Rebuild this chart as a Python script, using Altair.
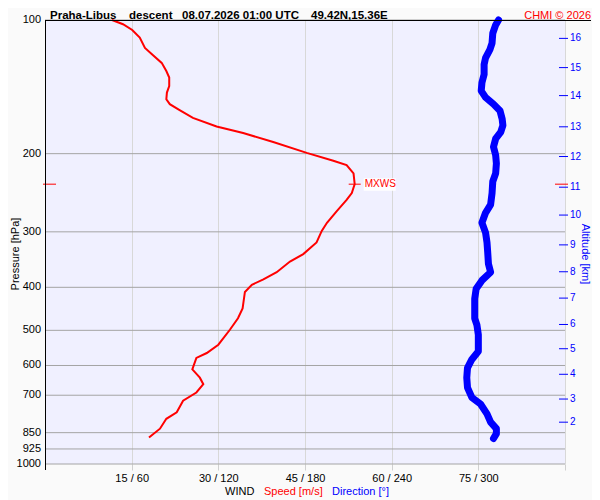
import altair as alt
import pandas as pd

# ---- data ----
speed_p = [100, 102.2, 105.3, 109.5, 115.6, 120.1, 124.9, 130.3, 134.8, 140.8,
           145.7, 150.8, 154.7, 159.5, 166.2, 173.7, 179.7, 188.3, 199.2, 207.5,
           212.3, 221.5, 234.3, 245.4, 254.3, 269.5, 286.2, 298.6, 317.0, 336.7,
           350.0, 369.8, 383.9, 394.7, 409.8, 446.3, 469.7, 498.5, 538.7, 562.4,
           576.8, 612.2, 639.1, 661.1, 690.2, 720.2, 764.6, 791.0, 832.6, 872.0]
speed_v = [11.6, 13.5, 15.1, 16.4, 17.3, 18.7, 20.2, 21.0, 21.5, 21.5,
           21.1, 21.0, 21.6, 23.3, 25.6, 29.7, 34.3, 39.5, 45.3, 49.9,
           52.2, 53.4, 53.6, 53.1, 52.2, 50.5, 48.8, 47.9, 47.0, 44.7,
           42.4, 40.1, 37.8, 35.8, 34.6, 34.2, 33.4, 32.0, 30.0, 28.0,
           26.2, 25.5, 26.8, 27.4, 26.2, 23.9, 22.8, 21.0, 19.9, 18.0]

dir_p = [100, 102.6, 107.1, 112.7, 116.6, 121.7, 126.0, 132.6, 138.4, 144.4,
         149.4, 154.7, 160.1, 167.1, 172.8, 178.8, 185.1, 193.1, 201.6, 210.4,
         221.5, 231.1, 245.4, 260.5, 271.8, 286.2, 301.2, 317.0, 333.8, 354.3,
         369.8, 385.9, 402.9, 424.2, 469.7, 486.0, 511.5, 557.5, 581.6, 607.2,
         639.1, 672.7, 708.1, 732.5, 770.9, 804.9, 832.6, 854.3, 876.5]
dir_v = [314, 312, 310, 309.5, 308, 305, 304, 304, 302.5, 302,
         305, 310.5, 315, 316.5, 317, 315.5, 312, 310.5, 312, 312.5,
         312, 310, 309.5, 308.5, 305, 302.5, 305, 306, 306.5, 307,
         308.5, 302.5, 298.5, 297.5, 297.5, 299, 300, 300, 295.5, 292.5,
         292, 292.5, 295.5, 301.5, 306, 308.5, 312.5, 312.5, 310.5]

alt_km = [2, 3, 4, 5, 6, 7, 8, 9, 10, 11, 12, 13, 14, 15, 16]
alt_p = [805, 714, 628, 550, 485, 423, 369, 321, 275, 238, 203, 174, 148, 128, 110]

p_ticks = [100, 200, 300, 400, 500, 600, 700, 850, 925, 1000]
x_ticks = [15, 30, 45, 60, 75, 90]

mxws_speed = [53.6]
mxws_p = [234.3]
mxws_label = ["MXWS"]

title_parts = ["Praha-Libus", "descent", "08.07.2026 01:00 UTC", "49.42N,15.36E"]
copyright_text = "CHMI \u00a9 2026"

# ---- layout ----
W, H = 520, 444
FONT = "Liberation Sans"
RED = "#ff0000"
BLUE = "#0000ff"

speed_df = pd.DataFrame({"i": range(len(speed_p)), "p": speed_p, "speed": speed_v})
dir_df = pd.DataFrame({"i": range(len(dir_p)), "p": dir_p, "dir": dir_v})
alt_df = pd.DataFrame({"km": [str(k) for k in alt_km], "p": alt_p})
mx_df = pd.DataFrame({"speed": mxws_speed, "p": mxws_p, "label": mxws_label})
grid_df = pd.DataFrame({"p": p_ticks, "lab": [str(v) for v in p_ticks]})
one = pd.DataFrame({"a": [0]})

yscale = alt.Scale(type="log", domain=[100, 1000], reverse=True, nice=False)
xscale = alt.Scale(domain=[0, 90], nice=False, zero=False)

xaxis = alt.Axis(values=x_ticks,
                 labelExpr="datum.value == 90 ? '' : datum.value + ' / ' + datum.value*4",
                 grid=True, gridColor="#d8d8d8", tickColor="#d0d0d0", tickSize=6,
                 domain=False, labelFontSize=11, labelColor="black", labelPadding=2,
                 title=None, labelFont=FONT, labelOverlap=False)


def Y():
    return alt.Y("p:Q", scale=yscale, axis=None)


# horizontal pressure grid and labels
grid_rules = alt.Chart(grid_df).mark_rule(color="#a4a4a4", strokeWidth=1).encode(
    x=alt.value(0), x2=alt.value(W), y=Y())
grid_labels = alt.Chart(grid_df).mark_text(
    align="right", baseline="middle", fontSize=11, color="black", font=FONT
).encode(x=alt.value(-4), y=Y(), text="lab:N")

speed_line = alt.Chart(speed_df).mark_line(color=RED, strokeWidth=2).encode(
    x=alt.X("speed:Q", scale=xscale, axis=xaxis),
    y=Y(),
    order="i:Q",
)

dir_line = alt.Chart(dir_df).mark_line(
    color=BLUE, strokeWidth=7, strokeCap="round", strokeJoin="round"
).encode(
    x=alt.X("dir:Q", scale=alt.Scale(domain=[0, 360], nice=False, zero=False), axis=None),
    y=Y(),
    order="i:Q",
)

mx_box = alt.Chart(mx_df).mark_point(
    shape="M0.9,-0.6L4.1,-0.6L4.1,0.65L0.9,0.65Z", size=400, filled=True,
    fill="white", strokeWidth=0, opacity=1
).encode(x=alt.X("speed:Q", scale=xscale, axis=None), y=Y())

mx_cross = alt.Chart(mx_df).mark_point(
    shape="M-0.6,0L0.6,0", size=400, filled=False, stroke=RED, strokeWidth=1, opacity=1
).encode(x=alt.X("speed:Q", scale=xscale, axis=None), y=Y())

mx_text = alt.Chart(mx_df).mark_text(
    align="left", baseline="middle", dx=10, fontSize=10, color=RED, font=FONT
).encode(x=alt.X("speed:Q", scale=xscale, axis=None), y=Y(), text="label:N")

mx_left = alt.Chart(mx_df).mark_rule(color=RED, strokeWidth=1).encode(
    x=alt.value(-2), x2=alt.value(11), y=Y())
mx_right = alt.Chart(mx_df).mark_rule(color=RED, strokeWidth=1).encode(
    x=alt.value(510), x2=alt.value(523), y=Y())

alt_ticks = alt.Chart(alt_df).mark_rule(color=BLUE, strokeWidth=1).encode(
    x=alt.value(514), x2=alt.value(523), y=Y())
alt_labels = alt.Chart(alt_df).mark_text(
    align="left", baseline="middle", fontSize=10, color=BLUE, font=FONT
).encode(x=alt.value(525), y=Y(), text="km:N")

top_line = alt.Chart(one).mark_rule(color="black", strokeWidth=1).encode(
    x=alt.value(0), x2=alt.value(546), y=alt.value(0.5))
left_line = alt.Chart(one).mark_rule(color="black", strokeWidth=1).encode(
    x=alt.value(0.5), y=alt.value(0), y2=alt.value(H + 6))


def label(text, x, y, **kw):
    kw.setdefault("font", FONT)
    return alt.Chart(pd.DataFrame({"t": [text]})).mark_text(**kw).encode(
        x=alt.value(x), y=alt.value(y), text="t:N")


title_x = [5, 84, 137, 266]
texts = [label(t, x, -1.5, align="left", baseline="alphabetic", fontSize=11.5,
               fontWeight="bold", color="black")
         for t, x in zip(title_parts, title_x)]
texts += [
    label(copyright_text, 546, -1.5, align="right", baseline="alphabetic", fontSize=11, color=RED),
    label("WIND", 180, 474.5, align="left", baseline="alphabetic", fontSize=11, color="black"),
    label("Speed [m/s]", 219, 474.5, align="left", baseline="alphabetic", fontSize=11, color=RED),
    label("Direction [\u00b0]", 287, 474.5, align="left", baseline="alphabetic", fontSize=11, color=BLUE),
    label("Pressure [hPa]", -29, 234, align="center", baseline="middle", fontSize=11,
          color="black", angle=270),
    label("Altitude [km]", 539.5, 234, align="center", baseline="middle", fontSize=11,
          color=BLUE, angle=90),
]

chart = alt.layer(
    grid_rules, grid_labels, speed_line, dir_line, mx_box, mx_cross, mx_text,
    mx_left, mx_right, alt_ticks, alt_labels, top_line, left_line, *texts
).resolve_scale(x="independent").properties(
    width=W, height=H,
    autosize=alt.AutoSizeParams(type="none"),
    padding={"left": 37, "top": 12, "right": 27, "bottom": 36},
    background="#fafafa",
).configure_view(fill="#f0f0ff", strokeWidth=0).configure_text(font=FONT)

chart.save("out.html", embed_options={"renderer": "svg", "actions": False})
